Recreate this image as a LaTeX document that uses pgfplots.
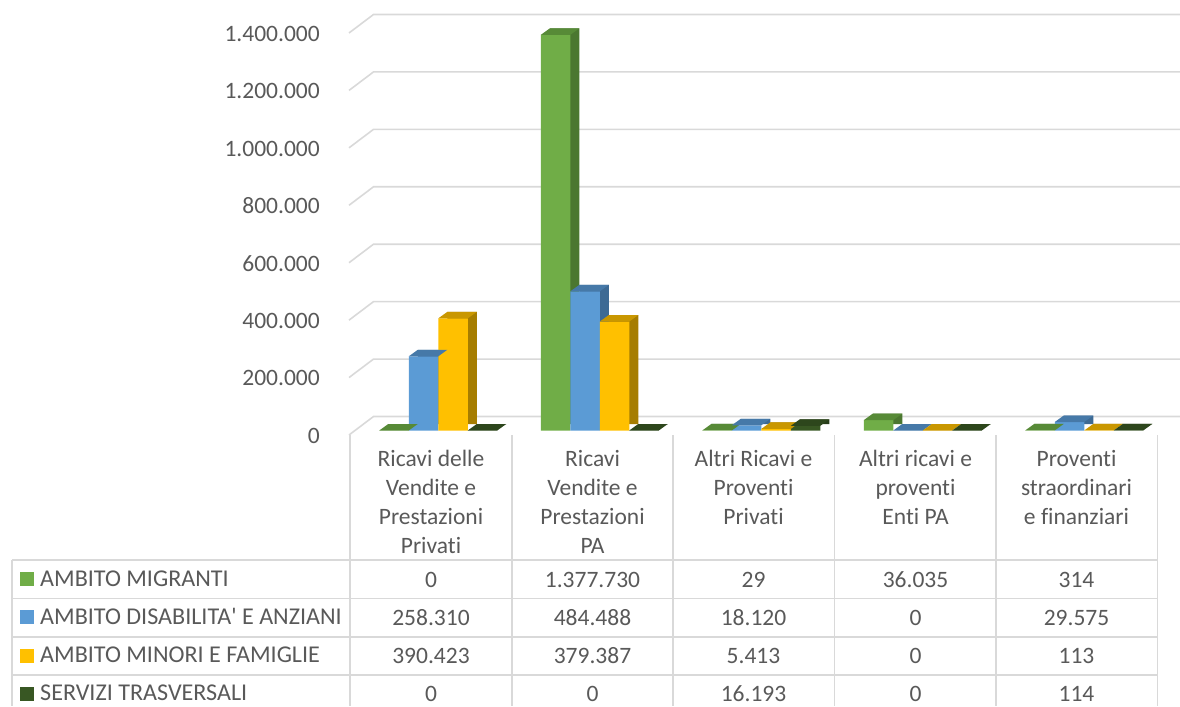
\documentclass[border=0pt]{standalone}
\usepackage{fontspec}
\setmainfont{Carlito}[Ligatures={CommonOff,TeXOff}]
\usepackage{pgfplots}
\usepackage{pgfplotstable}
\pgfplotsset{compat=1.18}
\definecolor{txt}{HTML}{595959}
\definecolor{gridc}{HTML}{D9D9D9}
\definecolor{gF}{HTML}{70AD47}\definecolor{gT}{HTML}{578A37}\definecolor{gS}{HTML}{4B7730}
\definecolor{bF}{HTML}{5B9BD5}\definecolor{bT}{HTML}{4679A8}\definecolor{bS}{HTML}{3D6A94}
\definecolor{yF}{HTML}{FFC000}\definecolor{yT}{HTML}{C99700}\definecolor{yS}{HTML}{A67D00}
\definecolor{dF}{HTML}{385723}\definecolor{dT}{HTML}{2D461C}\definecolor{dS}{HTML}{263C18}

% rows = categories, columns = series
\pgfplotstableread{
cat mig dis min ser
0 0 258310 390423 0
1 1377730 484488 379387 0
2 29 18120 5413 16193
3 36035 0 0 0
4 314 29575 113 114
}\datatable

\pgfdeclareplotmark{topface}{%
  \pgfpathmoveto{\pgfpoint{-14.75pt}{0pt}}%
  \pgfpathlineto{\pgfpoint{14.75pt}{0pt}}%
  \pgfpathlineto{\pgfpoint{23.75pt}{6.5pt}}%
  \pgfpathlineto{\pgfpoint{-5.75pt}{6.5pt}}%
  \pgfpathclose
  \pgfusepathqfill
}

\newcommand{\barthreed}[5]{%
  \addplot[ybar, bar width=29.5pt, bar shift=0pt, fill=#5, draw=none, xshift=9pt, yshift=6.5pt]
    table[x expr=\coordindex+#2, y=#1]{\datatable};
  \addplot[ybar, bar width=29.5pt, bar shift=0pt, fill=#3, draw=none]
    table[x expr=\coordindex+#2, y=#1]{\datatable};
  \addplot[only marks, mark=topface, color=#4, mark options={fill=#4, draw=none}]
    table[x expr=\coordindex+#2, y=#1]{\datatable};
}

\begin{document}
\begin{tikzpicture}[every node/.style={font=\fontsize{23.5}{28}\selectfont, text=txt, inner sep=0pt}]
\begin{scope}[x=1pt, y=-1pt]
  \path[use as bounding box] (0,0) rectangle (1180,706);
  % 3D floor/back-wall gridlines
  \foreach \i in {0,...,7} {
    \draw[gridc, line width=1.6pt] (349,{435-57.43*\i}) -- (373.5,{416.5-57.43*\i}) -- (1180,{416.5-57.43*\i});
  }
  % y tick labels
  \foreach \i/\lab in {0/0,1/200.000,2/400.000,3/600.000,4/800.000,5/1.000.000,6/1.200.000,7/1.400.000} {
    \node[anchor=base east] at (320,{443.3-57.43*\i}) {\lab};
  }
\end{scope}

\begin{axis}[at={(350.25pt,-430.5pt)}, anchor=south west, scale only axis,
  width=807.5pt, height=402pt, xmin=-0.5, xmax=4.5, ymin=0, ymax=1400000,
  hide axis, clip=false]
  \barthreed{mig}{-0.2291}{gF}{gT}{gS}
  \barthreed{dis}{-0.0464}{bF}{bT}{bS}
  \barthreed{min}{0.1362}{yF}{yT}{yS}
  \barthreed{ser}{0.3189}{dF}{dT}{dS}
\end{axis}

\begin{scope}[x=1pt, y=-1pt]
  % data table grid
  \foreach \x in {350,512,673,834.5,996,1157.5} {
    \draw[gridc, line width=1.6pt] (\x,435) -- (\x,706);
  }
  \draw[gridc, line width=1.6pt] (12,560) -- (12,706);
  \foreach \y in {560,598.5,637,675} {
    \draw[gridc, line width=1.6pt] (12,\y) -- (1157.5,\y);
  }
  % category headers
  \foreach \cx/\a/\b/\c/\d in {431/Ricavi delle/Vendite e/Prestazioni/Privati,
                               592.5/Ricavi/Vendite e/Prestazioni/PA,
                               753.5/Altri Ricavi e/Proventi/Privati/,
                               915.5/Altri ricavi e/proventi/Enti PA/,
                               1076.5/Proventi/straordinari/e finanziari/} {
    \node[anchor=base] at (\cx,466.7) {\a};
    \node[anchor=base] at (\cx,495.7) {\b};
    \node[anchor=base] at (\cx,524.7) {\c};
    \node[anchor=base] at (\cx,553.7) {\d};
  }
  % legend column
  \foreach \r/\col/\name in {0/gF/AMBITO MIGRANTI,1/bF/AMBITO DISABILITA' E ANZIANI,2/yF/AMBITO MINORI E FAMIGLIE,3/dF/SERVIZI TRASVERSALI} {
    \fill[\col] (20,{572+38.3*\r}) rectangle (34,{586+38.3*\r});
    \node[anchor=base west, font=\fontsize{24.1}{28}\selectfont] at (40,{586+38.3*\r}) {\name};
  }
  % values
  \foreach \r/\colname in {0/mig,1/dis,2/min,3/ser} {
    \foreach \c/\cx in {0/431,1/592.5,2/753.5,3/915.5,4/1076.5} {
      \pgfplotstablegetelem{\c}{\colname}\of\datatable
      \edef\myval{\pgfplotsretval}
      \node[anchor=base] at (\cx,{587.3+38.1*\r}) {\pgfmathprintnumber[fixed, precision=0, 1000 sep={.}, assume math mode=true]{\myval}};
    }
  }
\end{scope}
\end{tikzpicture}
\end{document}
